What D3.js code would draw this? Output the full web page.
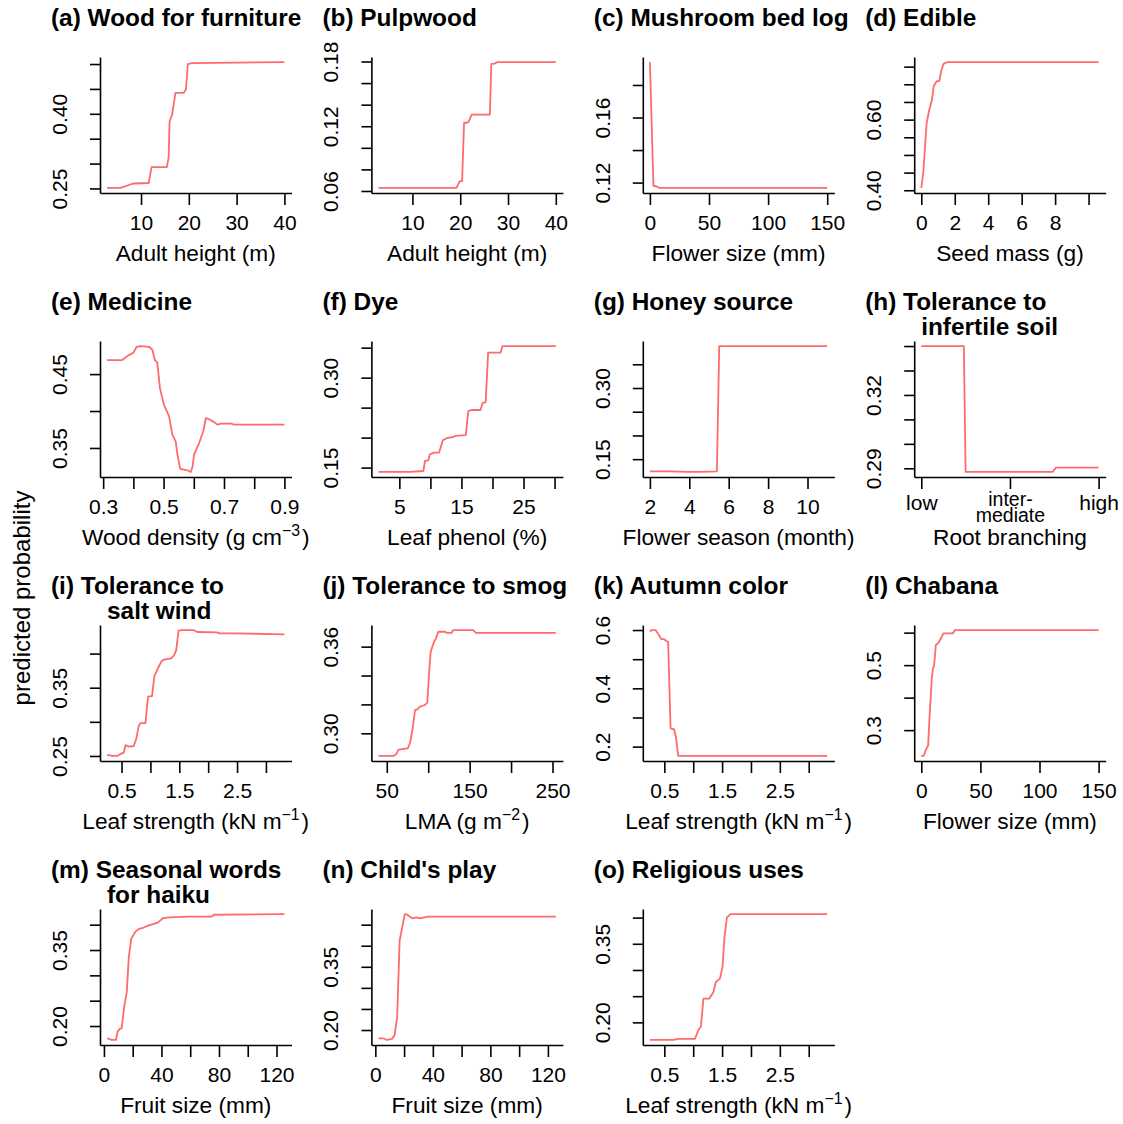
<!DOCTYPE html>
<html><head><meta charset="utf-8">
<script src="https://cdn.jsdelivr.net/npm/d3@7"></script>
<style>
body{margin:0;background:#fff}
text{font-family:"Liberation Sans",Arial,Helvetica,sans-serif;fill:#000}
</style>
</head><body>
<svg id="chart" width="1123" height="1124"></svg>
<script>
// ---------- DATA ----------
const titles = ["(a) Wood for furniture","(b) Pulpwood","(c) Mushroom bed log","(d) Edible",
  "(e) Medicine","(f) Dye","(g) Honey source","(h) Tolerance to\ninfertile soil",
  "(i) Tolerance to\nsalt wind","(j) Tolerance to smog","(k) Autumn color","(l) Chabana",
  "(m) Seasonal words\nfor haiku","(n) Child's play","(o) Religious uses"];
const xTitles = ["Adult height (m)","Adult height (m)","Flower size (mm)","Seed mass (g)",
  "Wood density (g cm^{\u22123})","Leaf phenol (%)","Flower season (month)","Root branching",
  "Leaf strength (kN m^{\u22121})","LMA (g m^{\u22122})","Leaf strength (kN m^{\u22121})","Flower size (mm)",
  "Fruit size (mm)","Fruit size (mm)","Leaf strength (kN m^{\u22121})"];
const yTitle = "predicted probability";

const aX = [2.9, 5.7, 7.8, 8.5, 11.6, 12.2, 15.4, 15.77, 15.98, 16.5, 17.2, 18.9, 19.4, 19.8, 20.6, 30, 40];
const aY = [0.251, 0.251, 0.258, 0.260, 0.261, 0.293, 0.293, 0.312, 0.385, 0.398, 0.442, 0.442, 0.449, 0.500, 0.502, 0.503, 0.504];
const bX = [2.9, 19.2, 19.5, 19.9, 20.4, 20.8, 21.7, 22.4, 26.2, 26.5, 27.2, 27.8, 40];
const bY = [0.0628, 0.0628, 0.0655, 0.0692, 0.0692, 0.123, 0.1237, 0.1307, 0.1307, 0.1777, 0.178, 0.1795, 0.1795];
const cX = [0, 3, 6, 8, 150];
const cY = [0.1941, 0.1179, 0.1176, 0.1167, 0.1167];
const dX = [0, 0.12, 0.32, 0.48, 0.64, 0.74, 0.91, 1.08, 1.18, 1.33, 1.57, 10.6];
const dY = [0.4065, 0.45, 0.591, 0.628, 0.656, 0.694, 0.708, 0.71, 0.736, 0.758, 0.763, 0.763];
const eX = [0.313, 0.363, 0.382, 0.40, 0.411, 0.424, 0.452, 0.463, 0.471, 0.479, 0.488, 0.501, 0.518, 0.529, 0.540, 0.546, 0.555, 0.579, 0.590, 0.596, 0.601, 0.618, 0.631, 0.640, 0.651, 0.667, 0.679, 0.690, 0.723, 0.734, 0.9];
const eY = [0.469, 0.469, 0.475, 0.479, 0.487, 0.488, 0.487, 0.483, 0.469, 0.466, 0.431, 0.4085, 0.393, 0.368, 0.359, 0.341, 0.3216, 0.3198, 0.3175, 0.325, 0.341, 0.357, 0.372, 0.3905, 0.389, 0.385, 0.3815, 0.383, 0.383, 0.3815, 0.3815];
const fX = [1.64, 6.7, 8.87, 9.13, 9.66, 9.9, 10.6, 11.4, 12.0, 12.6, 13.7, 14.06, 15.7, 16.1, 16.6, 18.07, 18.4, 18.9, 19.3, 21.3, 21.6, 22.8, 30.2];
const fY = [0.1427, 0.1427, 0.1443, 0.161, 0.162, 0.172, 0.175, 0.175, 0.1955, 0.199, 0.201, 0.203, 0.2043, 0.2443, 0.246, 0.246, 0.2577, 0.259, 0.3417, 0.3417, 0.3527, 0.3527, 0.3527];
const gX = [2, 3, 4, 4.5, 5.4, 5.52, 11];
const gY = [0.1243, 0.1243, 0.123, 0.123, 0.1243, 0.3885, 0.3885];
const hX = [1, 1.48, 1.5, 2.48, 2.52, 3];
const hY = [0.34, 0.34, 0.2885, 0.2885, 0.2903, 0.2903];
const iX = [0.25, 0.34, 0.426, 0.483, 0.54, 0.569, 0.626, 0.712, 0.758, 0.798, 0.827, 0.913, 0.959, 1.028, 1.068, 1.142, 1.20, 1.257, 1.36, 1.412, 1.447, 1.487, 1.545, 1.744, 1.813, 2.147, 2.204, 2.49, 3.32];
const iY = [0.2515, 0.25, 0.25, 0.253, 0.255, 0.266, 0.2637, 0.2646, 0.276, 0.294, 0.298, 0.298, 0.3368, 0.3378, 0.367, 0.3807, 0.3896, 0.3915, 0.393, 0.3979, 0.405, 0.4335, 0.4345, 0.4345, 0.4316, 0.4311, 0.4296, 0.4296, 0.4282];
const jX = [40, 58, 61.2, 64, 68, 75.3, 78, 81.3, 84.1, 86.9, 90.1, 96.1, 98.9, 101.3, 103, 107, 109.4, 112.2, 120.2, 122.3, 128.3, 130.2, 154.3, 157.6, 254];
const jY = [0.2843, 0.2843, 0.2855, 0.2885, 0.2891, 0.2896, 0.2931, 0.3035, 0.3161, 0.3166, 0.3184, 0.3196, 0.3212, 0.3438, 0.3565, 0.3634, 0.3657, 0.3703, 0.3703, 0.3696, 0.3696, 0.3715, 0.3715, 0.3696, 0.3696];
const kX = [0.25, 0.276, 0.348, 0.409, 0.446, 0.488, 0.530, 0.566, 0.608, 0.67, 0.70, 0.741, 3.32];
const kY = [0.594, 0.6, 0.6, 0.5825, 0.569, 0.569, 0.563, 0.5597, 0.263, 0.2596, 0.234, 0.168, 0.168];
const lX = [0, 2, 3.5, 5.8, 7, 8.8, 9.9, 10.8, 12.3, 14.6, 16.6, 18.7, 26.9, 28.4, 150];
const lY = [0.2205, 0.2205, 0.236, 0.253, 0.343, 0.455, 0.491, 0.496, 0.562, 0.569, 0.5826, 0.598, 0.598, 0.608, 0.608];
const mX = [2.2, 5.3, 8.4, 9.5, 11.3, 12.3, 14.1, 15.9, 17.3, 19.0, 21.9, 24.3, 27.1, 30.6, 34.2, 37.7, 41.2, 45.5, 58.9, 74.8, 76.6, 125.5];
const mY = [0.1759, 0.1725, 0.1725, 0.1889, 0.1954, 0.1954, 0.2379, 0.2673, 0.3359, 0.372, 0.3863, 0.3916, 0.3935, 0.398, 0.4013, 0.4045, 0.4131, 0.4143, 0.4157, 0.4157, 0.4196, 0.421];
const nX = [2.2, 5.3, 8.1, 11.6, 13.4, 15.2, 16.9, 18.7, 20.5, 22.2, 25.7, 28.6, 31.1, 36.4, 125.5];
const nY = [0.1804, 0.1804, 0.1764, 0.1788, 0.1882, 0.2314, 0.4123, 0.4436, 0.4752, 0.4736, 0.4649, 0.4672, 0.4649, 0.4689, 0.4689];
const oX = [0.25, 0.656, 0.743, 1.029, 1.09, 1.133, 1.177, 1.28, 1.35, 1.393, 1.463, 1.507, 1.541, 1.583, 1.653, 3.32];
const oY = [0.1664, 0.1664, 0.1683, 0.1683, 0.1854, 0.1917, 0.2455, 0.2455, 0.2581, 0.277, 0.2835, 0.3055, 0.3624, 0.4004, 0.4068, 0.4068];

const seriesX = [aX,bX,cX,dX,eX,fX,gX,hX,iX,jX,kX,lX,mX,nX,oX];
const seriesY = [aY,bY,cY,dY,eY,fY,gY,hY,iY,jY,kY,lY,mY,nY,oY];

// tick values and tick labels ("" = unlabeled tick)
const xTicks = [
  [10,20,30,40],[10,20,30,40],[0,50,100,150],[0,2,4,6,8,10],
  [0.3,0.4,0.5,0.6,0.7,0.8,0.9],[5,10,15,20,25,30],[2,4,6,8,10],[1,2,3],
  [0.5,1,1.5,2,2.5,3],[50,100,150,200,250],[0.5,1,1.5,2,2.5,3],[0,50,100,150],
  [0,20,40,60,80,100,120],[0,20,40,60,80,100,120],[0.5,1,1.5,2,2.5,3]];
const xTickLabels = [
  ["10","20","30","40"],["10","20","30","40"],["0","50","100","150"],["0","2","4","6","8",""],
  ["0.3","","0.5","","0.7","","0.9"],["5","","15","","25",""],["2","4","6","8","10"],["low","inter-\nmediate","high"],
  ["0.5","","1.5","","2.5",""],["50","","150","","250"],["0.5","","1.5","","2.5",""],["0","50","100","150"],
  ["0","","40","","80","","120"],["0","","40","","80","","120"],["0.5","","1.5","","2.5",""]];
const yTicks = [
  [0.25,0.30,0.35,0.40,0.45,0.50],[0.06,0.08,0.10,0.12,0.14,0.16,0.18],[0.12,0.14,0.16,0.18],[0.40,0.45,0.50,0.55,0.60,0.65,0.70,0.75],
  [0.35,0.40,0.45],[0.15,0.20,0.25,0.30,0.35],[0.15,0.20,0.25,0.30,0.35],[0.29,0.30,0.31,0.32,0.33,0.34],
  [0.25,0.30,0.35,0.40],[0.30,0.32,0.34,0.36],[0.2,0.3,0.4,0.5,0.6],[0.3,0.4,0.5,0.6],
  [0.20,0.25,0.30,0.35,0.40],[0.20,0.25,0.30,0.35,0.40,0.45],[0.20,0.25,0.30,0.35,0.40]];
const yTickLabels = [
  ["0.25","","","0.40","",""],["0.06","","","0.12","","","0.18"],["0.12","","0.16",""],["0.40","","","","0.60","","",""],
  ["0.35","","0.45"],["0.15","","","0.30",""],["0.15","","","0.30",""],["0.29","","","0.32","",""],
  ["0.25","","0.35",""],["0.30","","","0.36"],["0.2","","0.4","","0.6"],["0.3","","0.5",""],
  ["0.20","","","0.35",""],["0.20","","","0.35","",""],["0.20","","","0.35",""]];

// ---------- DRAW ----------
const svg = d3.select("#chart");
const lineColor = "#ff6a6a";
const W = 191.5, H = 136;
const pad = e => { const r = e[1]-e[0]; return [e[0]-0.04*r, e[1]+0.04*r]; };

function addRich(textSel, str, size){
  const parts = str.split(/(\^\{[^}]*\})/);
  parts.forEach(pt => {
    if (!pt) return;
    if (pt.startsWith("^{")) {
      textSel.append("tspan").attr("dy", -9).attr("font-size", size*0.7).text(pt.slice(2,-1));
      textSel.append("tspan").attr("dy", 9).text("\u200A");
    } else {
      textSel.append("tspan").text(pt);
    }
  });
}

seriesX.forEach((xs, i) => {
  const ys = seriesY[i];
  const col = i % 4, row = Math.floor(i / 4);
  const L = 100 + col*271.4, T = 57 + row*284;
  const B = T + H;
  const x = d3.scaleLinear().domain(pad(d3.extent(xs))).range([L, L+W]);
  const y = d3.scaleLinear().domain(pad(d3.extent(ys))).range([B, T]);
  const g = svg.append("g");

  // y axis
  const ya = g.append("g").attr("transform", `translate(${L},0)`)
    .call(d3.axisLeft(y).tickValues(yTicks[i]).tickFormat((d,j)=>yTickLabels[i][j]).tickSizeInner(10).tickSizeOuter(0));
  ya.attr("font-family",null).attr("font-size",null);
  ya.select(".domain").attr("stroke","#000").attr("stroke-width",1.6);
  ya.selectAll(".tick line").attr("stroke","#000").attr("stroke-width",1.6);
  ya.selectAll(".tick text").attr("x",0).attr("dy",0).attr("y",0)
    .attr("transform","translate(-33,0) rotate(-90)")
    .attr("text-anchor","middle").attr("font-size",21).attr("fill","#000");

  // x axis
  const xa = g.append("g").attr("transform", `translate(0,${B})`)
    .call(d3.axisBottom(x).tickValues(xTicks[i]).tickFormat((d,j)=>xTickLabels[i][j]).tickSizeInner(12).tickSizeOuter(0));
  xa.attr("font-family",null).attr("font-size",null);
  xa.select(".domain").attr("stroke","#000").attr("stroke-width",1.6);
  xa.selectAll(".tick line").attr("stroke","#000").attr("stroke-width",1.6);
  xa.selectAll(".tick text").each(function(d,j){
    const t = d3.select(this);
    const lab = xTickLabels[i][j];
    t.text(null).attr("dy",0).attr("font-size",21).attr("fill","#000");
    const lines = lab.split("\n");
    if (lines.length === 1) {
      t.attr("y", i === 7 ? 33 : 37).text(lab);
    } else {
      t.attr("y", 29).attr("font-size",19.5);
      lines.forEach((ln,k)=>t.append("tspan").attr("x",0).attr("dy", k===0?0:16).text(ln));
    }
  });

  // curve
  g.append("path").datum(xs.map((v,k)=>[v, ys[k]]))
    .attr("fill","none").attr("stroke",lineColor).attr("stroke-width",1.8)
    .attr("stroke-linejoin","round")
    .attr("d", d3.line().x(d=>x(d[0])).y(d=>y(d[1])));

  // panel title
  const tl = titles[i].split("\n");
  const tt = g.append("text").attr("x", L-49).attr("y", T-31)
    .attr("font-weight","bold").attr("font-size",24.4);
  tt.append("tspan").text(tl[0]);
  if (tl.length > 1) tt.append("tspan").attr("x", L-49+56).attr("dy", 25).text(tl[1]);

  // x axis title
  const xt = g.append("text").attr("x", L+W/2).attr("y", B+68)
    .attr("text-anchor","middle").attr("font-size",22.7);
  addRich(xt, xTitles[i], 22.7);
});

svg.append("text").attr("transform","translate(30,598) rotate(-90)")
  .attr("text-anchor","middle").attr("font-size",24).text(yTitle);
</script>
</body></html>
